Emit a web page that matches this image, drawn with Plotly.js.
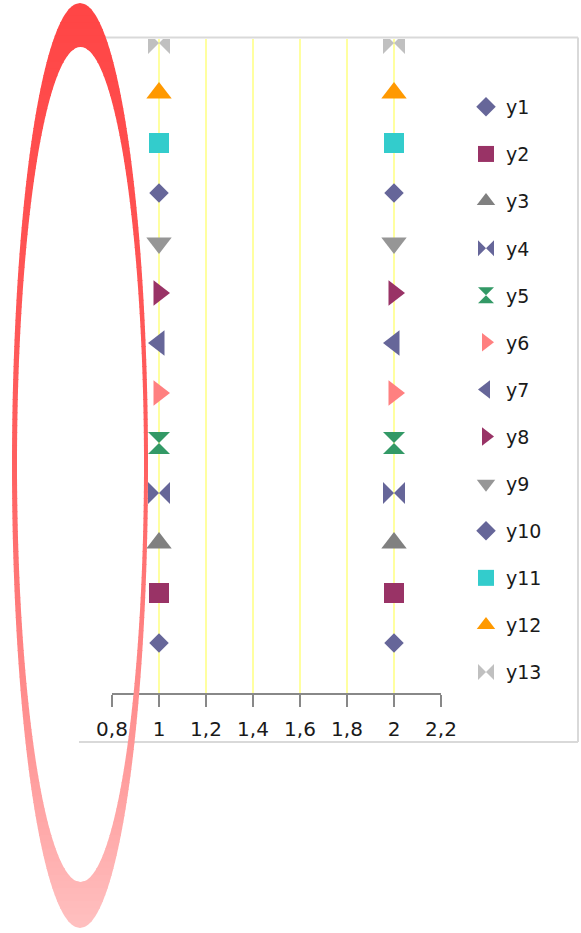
<!DOCTYPE html>
<html>
<head>
<meta charset="utf-8">
<script src="https://cdn.plot.ly/plotly-3.0.1.min.js"></script>
<style>html,body{margin:0;padding:0;background:#fff;}#chart{width:581px;height:933px;}</style>
</head>
<body>
<div id="chart"></div>
<script>
// ---- data ----
const xValues = [1, 2];
const seriesNames = ['y1','y2','y3','y4','y5','y6','y7','y8','y9','y10','y11','y12','y13'];
const y1 = [1, 1];
const y2 = [2, 2];
const y3 = [3, 3];
const y4 = [4, 4];
const y5 = [5, 5];
const y6 = [6, 6];
const y7 = [7, 7];
const y8 = [8, 8];
const y9 = [9, 9];
const y10 = [10, 10];
const y11 = [11, 11];
const y12 = [12, 12];
const y13 = [13, 13];
const seriesValues = [y1,y2,y3,y4,y5,y6,y7,y8,y9,y10,y11,y12,y13];
const tickValues = [0.8, 1, 1.2, 1.4, 1.6, 1.8, 2, 2.2];

// ---- styles ----
const markerStyles = [
  {symbol:'diamond', color:'#666699', size:15},
  {symbol:'square', color:'#993366', size:20},
  {symbol:'triangle-up', color:'#808080', size:22},
  {symbol:'bowtie', color:'#666699', size:22},
  {symbol:'hourglass', color:'#339966', size:22},
  {symbol:'triangle-right', color:'#FF8080', size:22},
  {symbol:'triangle-left', color:'#666699', size:22},
  {symbol:'triangle-right', color:'#993366', size:22},
  {symbol:'triangle-down', color:'#969696', size:22},
  {symbol:'diamond', color:'#666699', size:15},
  {symbol:'square', color:'#33CCCC', size:20},
  {symbol:'triangle-up', color:'#FF9900', size:22},
  {symbol:'bowtie', color:'#C0C0C0', size:22}
];

const W = 581, H = 933, ML = 112, MR = 140, MT = 39, MB = 240;
const pw = W - ML - MR, ph = H - MT - MB;
const PX = p => (p - ML) / pw;
const PY = p => (H - MB - p) / ph;

const traces = seriesNames.map((n, i) => ({
  type: 'scatter', mode: 'markers', name: n,
  x: xValues, y: seriesValues[i],
  legendgroup: 'g' + i,
  marker: {symbol: markerStyles[i].symbol, color: markerStyles[i].color,
           size: markerStyles[i].size, line: {width: 0}},
  cliponaxis: true
}));

// ---- decorative ellipse ring (gradient via horizontal bands) ----
const outerE = {cx: 80, cy: 465.5, rx: 68, ry: 462.5};
const innerE = {cx: 80.5, cy: 464.5, rx: 63.5, ry: 417.5};
const gStops = [[0, 69], [0.5, 96], [0.8, 150], [1, 192]];
function gradColor(t) {
  for (let k = 0; k < gStops.length - 1; k++) {
    const a = gStops[k], b = gStops[k + 1];
    if (t <= b[0]) {
      const v = Math.round(a[1] + (b[1] - a[1]) * (t - a[0]) / (b[0] - a[0]));
      return 'rgb(255,' + v + ',' + v + ')';
    }
  }
  return 'rgb(255,192,192)';
}
function halfW(e, y) { const d = (y - e.cy) / e.ry; return d * d >= 1 ? 0 : e.rx * Math.sqrt(1 - d * d); }
function bandPath(e, ya, yb, n) {
  const top = Math.max(ya, e.cy - e.ry), bot = Math.min(yb, e.cy + e.ry);
  if (bot <= top) return '';
  const right = [], left = [];
  for (let k = 0; k <= n; k++) {
    const y = top + (bot - top) * k / n;
    const h = halfW(e, y);
    right.push([e.cx + h, y]);
    left.push([e.cx - h, y]);
  }
  const pts = right.concat(left.reverse());
  return 'M' + pts.map(p => PX(p[0]).toFixed(5) + ',' + PY(p[1]).toFixed(5)).join('L') + 'Z';
}
const shapes = [];
const yStart = outerE.cy - outerE.ry, yEnd = outerE.cy + outerE.ry, nb = 140;
for (let b = 0; b < nb; b++) {
  const ya = yStart + (yEnd - yStart) * b / nb - 0.5;
  const yb = yStart + (yEnd - yStart) * (b + 1) / nb + 0.5;
  const path = bandPath(outerE, ya, yb, 8) + bandPath(innerE, ya, yb, 8);
  shapes.push({type: 'path', xref: 'paper', yref: 'paper', path: path,
    fillcolor: gradColor((b + 0.5) / nb), fillrule: 'evenodd', line: {width: 0}, layer: 'above'});
}
// chart border (top, right, bottom)
const bc = '#d9d9d9';
shapes.push({type:'line', xref:'paper', yref:'paper', x0:PX(79), x1:PX(578), y0:PY(37.5), y1:PY(37.5), line:{color:bc, width:2}, layer:'below'});
shapes.push({type:'line', xref:'paper', yref:'paper', x0:PX(578), x1:PX(578), y0:PY(37.5), y1:PY(742), line:{color:bc, width:2}, layer:'below'});
shapes.push({type:'line', xref:'paper', yref:'paper', x0:PX(79), x1:PX(578), y0:PY(742), y1:PY(742), line:{color:bc, width:2}, layer:'below'});

const layout = {
  width: W, height: H,
  margin: {l: ML, r: MR, t: MT, b: MB, autoexpand: false},
  paper_bgcolor: '#ffffff', plot_bgcolor: '#ffffff',
  separators: ', ',
  font: {family: 'DejaVu Sans, sans-serif', size: 19, color: '#1a1a1a'},
  showlegend: true,
  legend: {x: PX(466), xanchor: 'left', y: PY(88), yanchor: 'top',
           traceorder: 'grouped', tracegroupgap: 19.4, font: {size: 19, color: '#1a1a1a'},
           bgcolor: 'rgba(0,0,0,0)', itemwidth: 30},
  xaxis: {range: [0.8, 2.2], tickvals: tickValues, showgrid: true, gridcolor: '#ffffa0', gridwidth: 1.4,
          zeroline: false, showline: true, linecolor: '#888888', linewidth: 1.5,
          ticks: 'outside', ticklen: 12, tickcolor: '#888888', tickwidth: 1.5,
          ticklabelstandoff: 5,
          tickfont: {size: 20, color: '#1a1a1a'}, fixedrange: true},
  yaxis: {range: [0, 13.08], visible: false, showgrid: false, zeroline: false, fixedrange: true},
  shapes: shapes
};

Plotly.newPlot('chart', traces, layout, {displayModeBar: false, staticPlot: true});
</script>
</body>
</html>
